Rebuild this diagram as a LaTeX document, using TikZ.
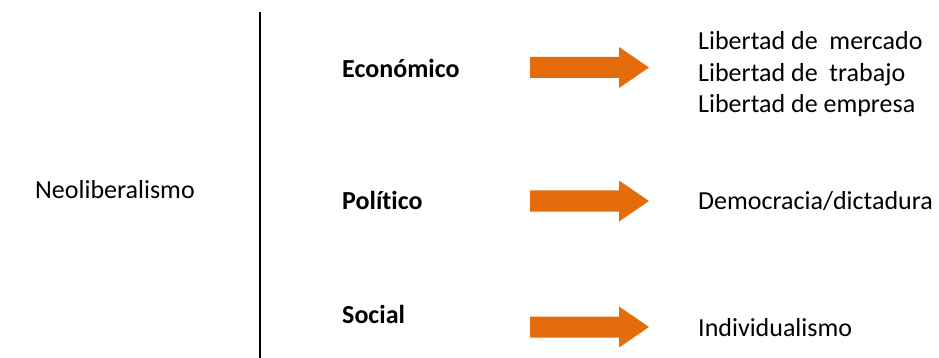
\documentclass[tikz,border=0pt]{standalone}
\usepackage{fontspec}
\setmainfont{Carlito}[RawFeature=-liga]
\usepackage{tikz}
\usetikzlibrary{positioning}
\usetikzlibrary{calc}
\definecolor{flecha}{RGB}{228,108,10}

\tikzset{
  txt/.style={anchor=base west, inner sep=0pt, font=\fontsize{26}{31}\selectfont},
  aspecto/.style={txt, font=\fontsize{26}{31}\selectfont\bfseries},
  bloque/.style={fill=flecha, draw=none}
}

\begin{document}
\begin{tikzpicture}[x=1pt, y=-1pt]
			\useasboundingbox (0,0) rectangle (939,358);
			\node[txt] (neo) at (35,198) {Neoliberalismo};
			\coordinate (top) at (260,12);
			\coordinate (bot) at (260,358);
			\draw[line width=1.6pt] (top) -- (bot);
			% aspectos y flechas
			\foreach \nombre/\texto/\yb/\ya in {eco/Económico/77.5/67.5, pol/Político/209.5/201, soc/Social/323.5/327}
			{
				\node[aspecto] (\nombre) at (342,\yb) {\texto};
				\coordinate (\nombre-a) at (530,\ya);
				\fill[bloque] (\nombre-a) ++(0,-10.5) -- ++(89,0) -- ++(0,-10) -- ++(30,20.5) -- ++(-30,20.5) -- ++(0,-10) -- ++(-89,0) -- cycle;
			}
			\node[txt] (merc) at (698,50) {Libertad de\ \ mercado};
			\node[txt] (trab) at (698,81.5) {Libertad de\ \ trabajo};
			\node[txt] (emp) at (698,112.5) {Libertad de empresa};
			\node[txt] (demo) at (698,209.5) {Democracia/dictadura};
			\node[txt] (indi) at (698,336.5) {Individualismo};
		\end{tikzpicture}
\end{document}
